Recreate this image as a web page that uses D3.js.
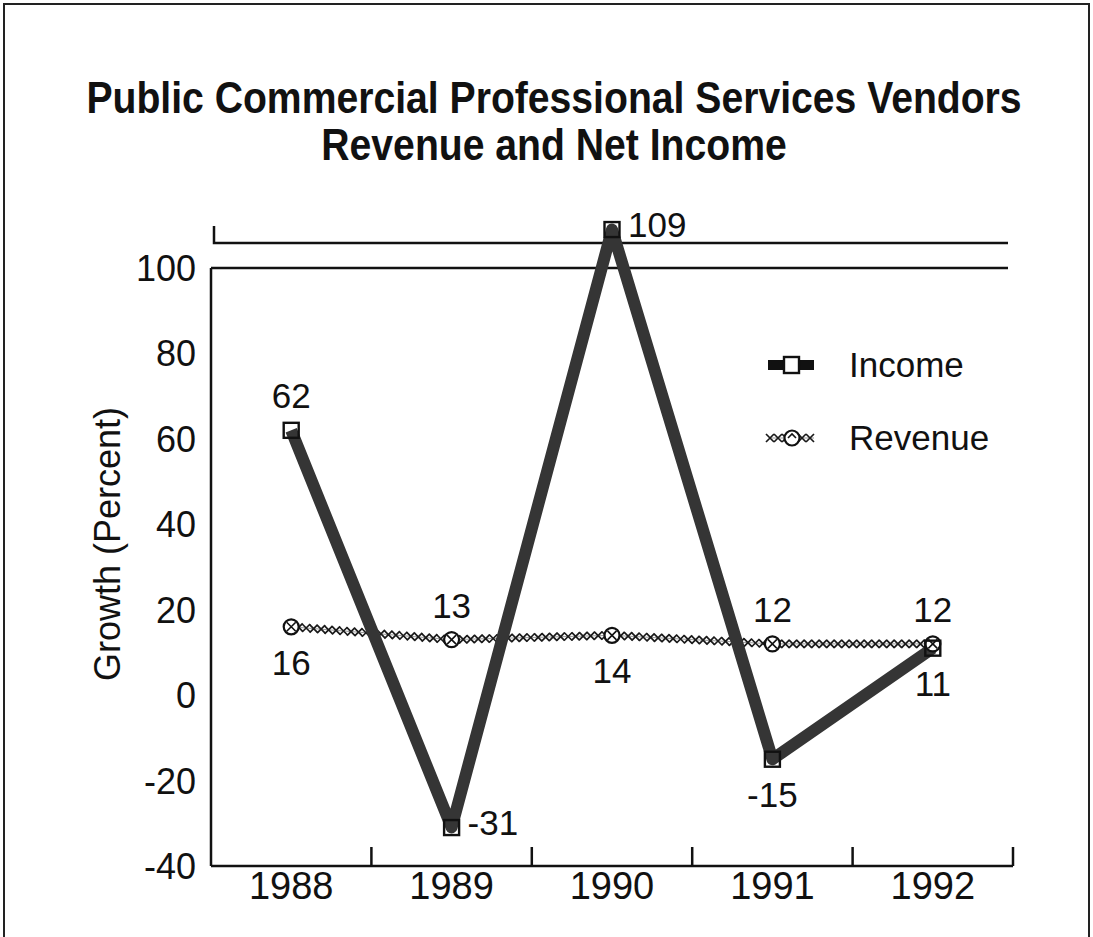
<!DOCTYPE html>
<html>
<head>
<meta charset="utf-8">
<script src="https://cdn.jsdelivr.net/npm/d3@7"></script>
<style>
  body { margin: 0; background: #fff; }
  svg text { font-family: "Liberation Sans", Arial, Helvetica, sans-serif; fill: #111; }
</style>
</head>
<body>
<svg id="chart" width="1093" height="937"></svg>
<script>
var years = ["1988", "1989", "1990", "1991", "1992"];
var income = [62, -31, 109, -15, 11];
var revenue = [16, 13, 14, 12, 12];
var yTicks = [-40, -20, 0, 20, 40, 60, 80, 100];
var seriesNames = ["Income", "Revenue"];
// where each data label sits relative to its point
var incomeLabelPos = ["above", "right", "right", "below", "below"];
var revenueLabelPos = ["below", "above", "below", "above", "above"];

var svg = d3.select("#chart");

// frame of the scanned page
svg.append("path")
  .attr("d", "M4,940 L4,4 L1089,4 L1089,940")
  .attr("fill", "none").attr("stroke", "#222").attr("stroke-width", 2);

// title
var title = svg.append("text")
  .attr("text-anchor", "middle")
  .attr("font-weight", "bold")
  .attr("font-size", 45)
  .attr("transform", "translate(554,0) scale(0.87,1)");
title.append("tspan").attr("x", 0).attr("y", 113).text("Public Commercial Professional Services Vendors");
title.append("tspan").attr("x", 0).attr("y", 160).text("Revenue and Net Income");

var left = 211, right = 1013;
var x = d3.scaleBand().domain(years).range([left, right]);
var y = d3.scaleLinear().domain([-40, 100]).range([866, 268]);

var g = svg.append("g");

// y axis line
g.append("line")
  .attr("x1", left).attr("x2", left)
  .attr("y1", y(100)).attr("y2", y(-40))
  .attr("stroke", "#111").attr("stroke-width", 2.5);
// line at 100
g.append("line")
  .attr("x1", left).attr("x2", 1008)
  .attr("y1", y(100)).attr("y2", y(100))
  .attr("stroke", "#111").attr("stroke-width", 2.5);
// broken-axis piece above 100
g.append("path")
  .attr("d", "M" + (left + 3) + "," + (y(100) - 42) + " L" + (left + 3) + "," + (y(100) - 25) + " L1008," + (y(100) - 25))
  .attr("fill", "none").attr("stroke", "#111").attr("stroke-width", 2.5);

// x axis
g.append("line")
  .attr("x1", left).attr("x2", right)
  .attr("y1", y(-40)).attr("y2", y(-40))
  .attr("stroke", "#111").attr("stroke-width", 2.5);
g.selectAll(".xtick")
  .data(years)
  .enter().append("line")
  .attr("class", "xtick")
  .attr("x1", function(d) { return x(d) + x.bandwidth(); })
  .attr("x2", function(d) { return x(d) + x.bandwidth(); })
  .attr("y1", y(-40)).attr("y2", y(-40) - 19)
  .attr("stroke", "#111").attr("stroke-width", 2.5);

g.selectAll(".xlabel")
  .data(years)
  .enter().append("text")
  .attr("class", "xlabel")
  .attr("x", function(d) { return x(d) + x.bandwidth() / 2; })
  .attr("y", 899)
  .attr("text-anchor", "middle")
  .attr("font-size", 38)
  .text(function(d) { return d; });

g.selectAll(".ylabel")
  .data(yTicks)
  .enter().append("text")
  .attr("class", "ylabel")
  .attr("x", 196)
  .attr("y", function(d) { return y(d) + 13; })
  .attr("text-anchor", "end")
  .attr("font-size", 36)
  .text(function(d) { return d; });

svg.append("text")
  .attr("transform", "translate(120,544) rotate(-90)")
  .attr("text-anchor", "middle")
  .attr("font-size", 36)
  .text("Growth (Percent)");

var cx = function(d, i) { return x(years[i]) + x.bandwidth() / 2; };

// revenue line: chain of little x marks
function xChain(sel, pathD, step) {
  var tmp = sel.append("path").attr("d", pathD).attr("fill", "none").attr("stroke", "#999").attr("stroke-width", 1);
  var node = tmp.node(), len = node.getTotalLength();
  var marks = d3.range(0, len, step).map(function(l) { return node.getPointAtLength(l); });
  sel.selectAll(null)
    .data(marks)
    .enter().append("path")
    .attr("class", "xm")
    .attr("d", function(p) {
      return "M" + (p.x - 4) + "," + (p.y - 4) + "L" + (p.x + 4) + "," + (p.y + 4) +
             "M" + (p.x - 4) + "," + (p.y + 4) + "L" + (p.x + 4) + "," + (p.y - 4);
    })
    .attr("stroke", "#1a1a1a").attr("stroke-width", 1.7);
}

var line = d3.line().x(cx).y(function(d) { return y(d); });

var revG = svg.append("g");
xChain(revG, line(revenue), 7.5);

// income line
svg.append("path")
  .attr("d", line(income))
  .attr("fill", "none")
  .attr("stroke", "#353535")
  .attr("stroke-width", 12)
  .attr("stroke-linejoin", "round");

// markers
svg.selectAll(".rmark")
  .data(revenue)
  .enter().append("g")
  .attr("class", "rmark")
  .attr("transform", function(d, i) { return "translate(" + cx(d, i) + "," + y(d) + ")"; })
  .each(function() {
    var m = d3.select(this);
    m.append("circle").attr("r", 7.5).attr("fill", "#fff").attr("stroke", "#111").attr("stroke-width", 2.2);
    m.append("path").attr("d", "M-4.5,-4.5L4.5,4.5M-4.5,4.5L4.5,-4.5").attr("stroke", "#111").attr("stroke-width", 1.6);
  });

svg.selectAll(".imark")
  .data(income)
  .enter().append("rect")
  .attr("class", "imark")
  .attr("x", function(d, i) { return cx(d, i) - 7.5; })
  .attr("y", function(d) { return y(d) - 7.5; })
  .attr("width", 15).attr("height", 15)
  .attr("fill", "none")
  .attr("stroke", "#111").attr("stroke-width", 2.4);

// value labels
function labelXY(v, i, pos) {
  var px = cx(v, i), py = y(v);
  if (pos === "above") return [px, py - 22, "middle"];
  if (pos === "below") return [px, py + 48, "middle"];
  return [px + 16, py + 7, "start"];
}
function addLabels(data, posArr, cls) {
  svg.selectAll("." + cls)
    .data(data)
    .enter().append("text")
    .attr("class", cls)
    .attr("font-size", 35)
    .each(function(d, i) {
      var p = labelXY(d, i, posArr[i]);
      d3.select(this).attr("x", p[0]).attr("y", p[1]).attr("text-anchor", p[2]);
    })
    .text(function(d) { return d; });
}
addLabels(income, incomeLabelPos, "ilab");
addLabels(revenue, revenueLabelPos, "rlab");

// legend
var legend = svg.append("g").attr("transform", "translate(768,365)");
legend.append("line").attr("x1", 0).attr("x2", 46).attr("y1", 0).attr("y2", 0)
  .attr("stroke", "#111").attr("stroke-width", 10);
legend.append("rect").attr("x", 16).attr("y", -8).attr("width", 15).attr("height", 16)
  .attr("fill", "#fff").attr("stroke", "#111").attr("stroke-width", 2.4);
legend.append("text").attr("x", 81).attr("y", 12).attr("font-size", 35).text(seriesNames[0]);

var leg2 = svg.append("g").attr("transform", "translate(768,438)");
xChain(leg2, "M2,0 L46,0", 8);
leg2.append("circle").attr("cx", 24).attr("r", 7.5).attr("fill", "#fff").attr("stroke", "#111").attr("stroke-width", 2.2);
leg2.append("path").attr("d", "M20,0L24,-4L28,0").attr("fill", "none").attr("stroke", "#111").attr("stroke-width", 1.6);
leg2.append("text").attr("x", 81).attr("y", 12).attr("font-size", 35).text(seriesNames[1]);
</script>
</body>
</html>
